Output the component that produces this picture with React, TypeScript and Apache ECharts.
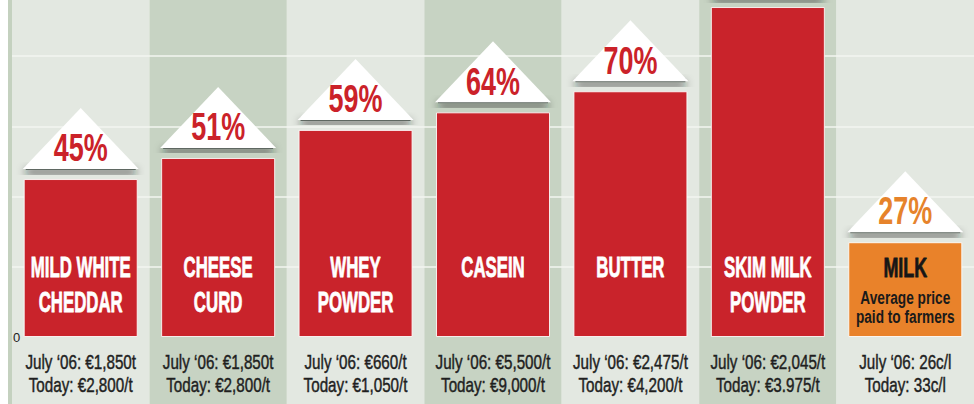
import React, { useEffect, useRef } from "react";
import * as echarts from "echarts";

const categories = ["MILD WHITE\nCHEDDAR", "CHEESE\nCURD", "WHEY\nPOWDER", "CASEIN", "BUTTER", "SKIM MILK\nPOWDER", "MILK"];
const increases = [45, 51, 59, 64, 70, 94, 27];
const increaseLabels = ["45%", "51%", "59%", "64%", "70%", "94%", "27%"];
const july06Prices = [
  "July \u201806: \u20ac1,850t",
  "July \u201806: \u20ac1,850t",
  "July \u201806: \u20ac660/t",
  "July \u201806: \u20ac5,500/t",
  "July \u201806: \u20ac2,475/t",
  "July \u201806: \u20ac2,045/t",
  "July \u201806: 26c/l",
];
const todayPrices = [
  "Today: \u20ac2,800/t",
  "Today: \u20ac2,800/t",
  "Today: \u20ac1,050/t",
  "Today: \u20ac9,000/t",
  "Today: \u20ac4,200/t",
  "Today: \u20ac3.975/t",
  "Today: 33c/l",
];
const milkSubtitle = ["Average price", "paid to farmers"];
const yMin = 0;
const yMax = 96;
const yInterval = 20;

const RED = "#c9232b";
const ORANGE = "#e9822a";
const RED_TEXT = "#cb2229";
const ORANGE_TEXT = "#e6832b";
const LIGHT = "#e3e8e1";
const DARK = "#c7d3c3";
const FONT = '"Liberation Sans", Arial, sans-serif';
const BAR_W = 114;

export default function App() {
  const ref = useRef<HTMLDivElement>(null);
  useEffect(() => {
    if (!ref.current) return;
    const chart = echarts.init(ref.current, undefined, { renderer: "svg" });
    const milkIndex = categories.length - 1;

    const roofRender = (params: any, api: any) => {
      const idx = params.dataIndex;
      const [cx, topY] = api.coord([api.value(0), api.value(1)]);
      const base = topY - 10;
      const isMilk = idx === milkIndex;
      const children: any[] = [
        {
          type: "rect",
          shape: { x: cx - 55, y: base - 3, width: 110, height: 4 },
          style: { fill: "#5f6762", shadowBlur: 9, shadowOffsetY: 4, shadowColor: "rgba(25,32,28,0.95)" },
        },
        {
          type: "polygon",
          shape: { points: [[cx - 58, base], [cx + 58, base], [cx, base - 61]] },
          style: { fill: "#ffffff" },
        },
      ];
      // the percentage sits inside the roof; a roof pushed above the page is cropped away
      if (base - 21 > 20) {
        children.push({
          type: "text",
          x: cx,
          y: base - 21,
          scaleX: 0.71,
          style: {
            text: increaseLabels[idx],
            fill: isMilk ? ORANGE_TEXT : RED_TEXT,
            font: `bold 38px ${FONT}`,
            align: "center",
            verticalAlign: "middle",
          },
        });
      }
      return { type: "group", children };
    };

    const labelRender = (params: any, api: any) => {
      const idx = params.dataIndex;
      const [cx, y0] = api.coord([api.value(0), 0]);
      const isMilk = idx === milkIndex;
      const children: any[] = [];
      const lines = categories[idx].split("\n");
      lines.forEach((ln, k) => {
        children.push({
          type: "text",
          x: cx,
          y: y0 - 70 + k * 35,
          scaleX: isMilk ? 0.64 : 0.58,
          style: {
            text: ln,
            fill: isMilk ? "#161616" : "#ffffff",
            stroke: isMilk ? "#161616" : "#ffffff",
            lineWidth: 0.8,
            font: `bold ${isMilk ? 28 : 29}px ${FONT}`,
            align: "center",
            verticalAlign: "middle",
          },
        });
      });
      if (isMilk) {
        milkSubtitle.forEach((ln, k) => {
          children.push({
            type: "text",
            x: cx,
            y: y0 - 39 + k * 19,
            scaleX: 0.72,
            style: {
              text: ln,
              fill: "#1a1a1a",
              font: `bold 19px ${FONT}`,
              align: "center",
              verticalAlign: "middle",
            },
          });
        });
      }
      [july06Prices[idx], todayPrices[idx]].forEach((ln, k) => {
        children.push({
          type: "text",
          x: cx,
          y: y0 + 25 + k * 23,
          scaleX: 0.78,
          style: {
            text: ln,
            fill: "#1f1f1f",
            stroke: "#1f1f1f",
            lineWidth: 0.45,
            font: `19.5px ${FONT}`,
            align: "center",
            verticalAlign: "middle",
          },
        });
      });
      return { type: "group", children };
    };

    const pointData = increases.map((v, i) => [i, v]);

    chart.setOption({
      animation: false,
      backgroundColor: "transparent",
      grid: [
        { left: 12, right: 0, top: 0, bottom: 0 },
        { left: 12, right: 0, top: 0, bottom: 67 },
      ],
      xAxis: [
        {
          type: "category",
          gridIndex: 0,
          data: categories,
          z: 0,
          axisLine: { show: false },
          axisTick: { show: false },
          axisLabel: { show: false },
          splitLine: { show: false },
          splitArea: { show: true, areaStyle: { color: [LIGHT, DARK] } },
        },
        {
          type: "category",
          gridIndex: 1,
          data: categories,
          axisLine: { show: false },
          axisTick: { show: false },
          axisLabel: { show: false },
          splitLine: { show: false },
        },
      ],
      yAxis: [
        {
          type: "value",
          gridIndex: 0,
          min: 0,
          max: 1,
          offset: 2,
          z: 3,
          axisLine: { show: true, lineStyle: { color: "#c4d1bf", width: 4 } },
          axisTick: { show: false },
          axisLabel: { show: false },
          splitLine: { show: false },
        },
        {
          type: "value",
          gridIndex: 1,
          min: yMin,
          max: yMax,
          interval: yInterval,
          z: 1,
          axisLine: { show: false },
          axisTick: { show: false },
          axisLabel: {
            show: true,
            inside: true,
            margin: 1,
            formatter: (v: number) => (v === 0 ? "0" : ""),
            color: "#222",
            fontSize: 13,
            fontFamily: FONT,
            padding: [4, 0, 0, 0],
          },
          splitLine: {
            show: true,
            showMinLine: false,
            showMaxLine: false,
            lineStyle: { color: "#f3f6f1", width: 1.5 },
          },
        },
      ],
      series: [
        {
          type: "custom",
          xAxisIndex: 1,
          yAxisIndex: 1,
          z: 1,
          clip: false,
          renderItem: roofRender,
          data: pointData,
          encode: { x: 0, y: 1 },
          silent: true,
        },
        {
          type: "bar",
          xAxisIndex: 1,
          yAxisIndex: 1,
          z: 2,
          barWidth: BAR_W,
          data: increases.map((v, i) => ({
            value: v,
            itemStyle: {
              color: i === milkIndex ? ORANGE : RED,
              borderColor: "rgba(255,255,255,0.85)",
              borderWidth: 1,
            },
          })),
        },
        {
          type: "custom",
          xAxisIndex: 1,
          yAxisIndex: 1,
          z: 3,
          clip: false,
          renderItem: labelRender,
          data: pointData,
          encode: { x: 0, y: 1 },
          silent: true,
        },
      ],
    });
    return () => chart.dispose();
  }, []);
  return <div ref={ref} style={{ position: "absolute", left: 0, top: 0, width: 974, height: 404 }} />;
}
